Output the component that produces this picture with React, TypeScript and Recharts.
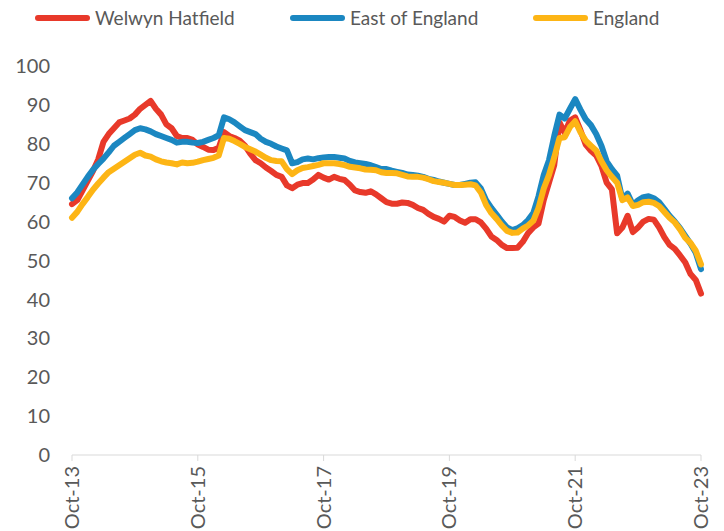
import { LineChart, Line, XAxis, YAxis } from 'recharts'

// monthly, Oct-13 .. Oct-23
const MONTHS = ['Jan', 'Feb', 'Mar', 'Apr', 'May', 'Jun', 'Jul', 'Aug', 'Sep', 'Oct', 'Nov', 'Dec']
const categories: string[] = []
for (let i = 0; i <= 120; i++) {
  const m = (9 + i) % 12
  const yr = 13 + Math.floor((9 + i) / 12)
  categories.push(`${MONTHS[m]}-${yr}`)
}

const tickLabels = ['Oct-13', 'Oct-15', 'Oct-17', 'Oct-19', 'Oct-21', 'Oct-23']
const yTicks = [0, 10, 20, 30, 40, 50, 60, 70, 80, 90, 100]

const welwyn = [
  64.5, 65.5, 68, 70.5, 73, 76, 80.5, 82.5, 84, 85.5, 86, 86.5, 87.5, 89, 90, 91, 89, 87.5, 85, 84,
  82, 81.5, 81.5, 81, 79.8, 79.2, 78.5, 78.4, 79, 83, 82, 81.5, 80.8, 79.5, 77.5, 75.8, 75, 73.9, 73, 72,
  71.5, 69.3, 68.6, 69.5, 69.9, 69.9, 70.8, 72, 71.3, 70.8, 71.5, 71, 70.7, 69.5, 68, 67.6, 67.4, 67.8, 67, 66,
  65, 64.6, 64.6, 64.9, 64.8, 64.3, 63.5, 63, 62, 61.2, 60.7, 60, 61.5, 61.2, 60.3, 59.7, 60.6, 60.6, 59.8, 58.2,
  56.2, 55.3, 54, 53.2, 53.2, 53.3, 54.8, 57, 58.5, 59.5, 65.5, 70, 74.5, 85.5, 82.8, 86, 86.8, 83.5, 79.8, 78.2,
  77, 74.3, 70, 68.3, 57, 58.5, 61.5, 57.3, 58.5, 60, 60.7, 60.5, 58.5, 56, 54, 53, 51.3, 49.5, 46.5, 45,
  41.5,
]

const eastOfEngland = [
  66, 67.5, 69.5, 71.5, 73.3, 74.8, 76.2, 77.8, 79.5, 80.5, 81.5, 82.5, 83.5, 84, 83.7, 83.2, 82.5, 82, 81.5, 81,
  80.3, 80.5, 80.5, 80.3, 80.2, 80.5, 81, 81.5, 82.2, 86.8, 86.3, 85.5, 84.5, 83.5, 83, 82.5, 81.3, 80.5, 80, 79.3,
  78.8, 78.3, 75, 75.3, 76, 76.2, 76, 76.3, 76.5, 76.6, 76.6, 76.4, 76.2, 75.6, 75.2, 75, 74.8, 74.5, 74, 73.5,
  73.5, 73.1, 72.8, 72.5, 72.1, 72, 71.8, 71.5, 71, 70.7, 70.3, 70, 69.7, 69.4, 69.4, 69.7, 70, 70.1, 68.5, 65.5,
  63.5, 61.8, 60, 58.5, 57.8, 58.3, 59.1, 60.4, 62.2, 66.5, 72, 75.8, 82, 87.5, 86.5, 89, 91.5, 88.8, 86.3, 84.8,
  82.5, 79.5, 75.5, 73.5, 71.8, 65.8, 67.2, 64.3, 65.5, 66.3, 66.5, 66, 65, 63.3, 61.5, 60, 58.3, 56.3, 54.3, 52,
  47.8,
]

const england = [
  61, 62.5, 64.5, 66.3, 68.2, 69.8, 71.3, 72.7, 73.6, 74.5, 75.4, 76.3, 77.2, 77.7, 77, 76.7, 76, 75.5, 75.2, 75,
  74.7, 75.2, 75, 75.1, 75.4, 75.8, 76.1, 76.4, 77, 81.5, 81.3, 80.7, 80, 79.2, 78.6, 78, 77.2, 76.4, 75.8, 75.6,
  75.5, 73.5, 72.2, 73.2, 73.8, 74, 74.3, 74.6, 75, 75, 75, 74.8, 74.5, 74.1, 73.9, 73.7, 73.4, 73.3, 73.2, 72.7,
  72.5, 72.5, 72.4, 72, 71.6, 71.5, 71.5, 71.3, 70.9, 70.4, 70.2, 70, 69.7, 69.4, 69.4, 69.5, 69.6, 69.3, 67.5, 64.3,
  62.2, 60.7, 59, 57.6, 57.1, 57.2, 58.2, 59, 60.2, 63.5, 68.5, 72, 76.5, 81.5, 81.7, 84.3, 85.8, 83, 80.8, 79.5,
  78.3, 75.5, 73.2, 71.5, 70, 65.5, 66.2, 64, 64.3, 65, 65.1, 64.8, 64, 62.5, 61, 59.8, 58, 55.8, 54.5, 52.5,
  49,
]

const series = [
  { key: 'welwyn', name: 'Welwyn Hatfield', color: '#E8392A' },
  { key: 'east', name: 'East of England', color: '#1B87C1' },
  { key: 'england', name: 'England', color: '#FDB515' },
]

const data = categories.map((month, i) => ({
  month,
  welwyn: welwyn[i],
  east: eastOfEngland[i],
  england: england[i],
}))

const FONT = 'Lato, "Open Sans", sans-serif'

function XTick(props: any) {
  const { x, y, payload } = props
  return (
    <text
      x={x}
      y={y}
      dy="0.35em"
      transform={`rotate(-90, ${x}, ${y})`}
      textAnchor="end"
      fill="#595959"
      fontSize={20}
      fontFamily={FONT}
    >
      {payload.value}
    </text>
  )
}

function LegendRow() {
  const widths = [255, 243, 150]
  return (
    <div
      style={{
        position: 'absolute',
        top: 6,
        left: 35,
        display: 'flex',
        fontFamily: FONT,
        fontSize: 19,
        color: '#595959',
      }}
    >
      {series.map((s, i) => (
        <div key={s.key} style={{ width: widths[i], display: 'flex', alignItems: 'center' }}>
          <div style={{ width: 55, height: 6, borderRadius: 3, background: s.color, marginRight: 5 }} />
          <span>{s.name}</span>
        </div>
      ))}
    </div>
  )
}

export default function App() {
  return (
    <div style={{ position: 'absolute', left: 0, top: 0, width: 724, height: 531, background: '#fff' }}>
      <LegendRow />
      <LineChart
        width={724}
        height={531}
        data={data}
        margin={{ top: 66, right: 23, bottom: 6, left: 10 }}
      >
        <XAxis
          dataKey="month"
          interval={0}
          ticks={tickLabels}
          stroke="#D9D9D9"
          tickSize={6}
          tickMargin={5}
          height={70}
          tick={<XTick />}
        />
        <YAxis
          domain={[0, 100]}
          ticks={yTicks}
          width={62}
          axisLine={false}
          tickLine={false}
          tick={{ fill: '#595959', fontSize: 20, fontFamily: FONT }}
          tickMargin={16}
        />
        {series.map((s) => (
          <Line
            key={s.key}
            dataKey={s.key}
            name={s.name}
            stroke={s.color}
            strokeWidth={6}
            dot={false}
            type="linear"
            strokeLinejoin="round"
            strokeLinecap="round"
            isAnimationActive={false}
          />
        ))}
      </LineChart>
    </div>
  )
}
